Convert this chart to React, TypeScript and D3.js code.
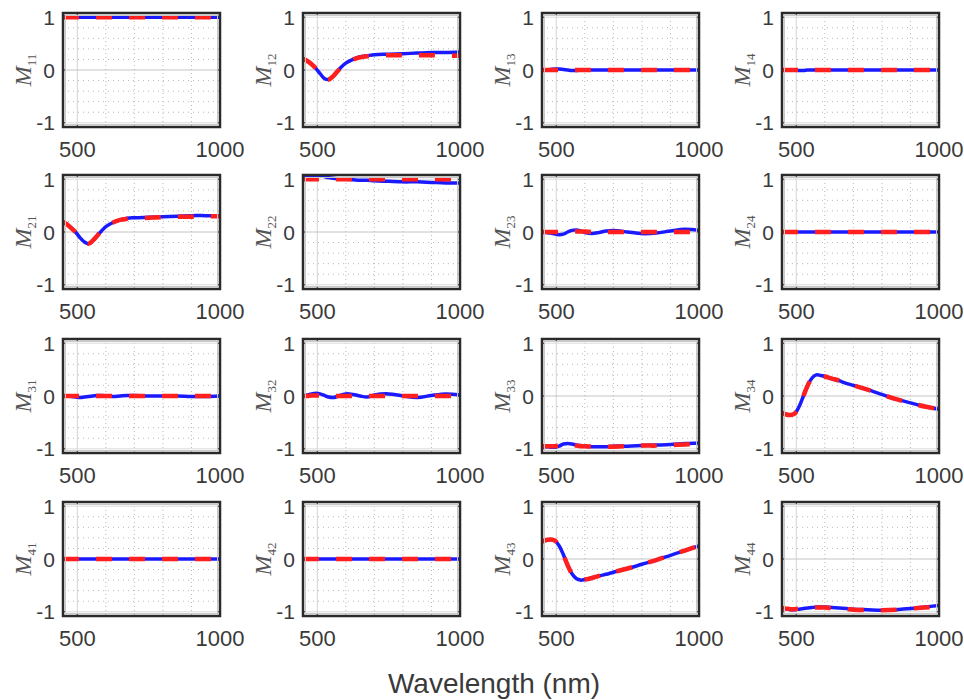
import React from "react";
import * as d3 from "d3";

// Shared wavelength samples (nm)
const wavelengths = [450, 465, 480, 495, 510, 525, 540, 555, 570, 585, 600, 625, 650, 675, 700, 750, 800, 850, 900, 950, 1000];

// Measured (blue) and fitted (red) Mueller matrix elements
const m11Measured = [1, 1, 1, 1, 1, 1, 1, 1, 1, 1, 1, 1, 1, 1, 1, 1, 1, 1, 1, 1, 1];
const m11Fit = [1, 1, 1, 1, 1, 1, 1, 1, 1, 1, 1, 1, 1, 1, 1, 1, 1, 1, 1, 1, 1];
const m12Measured = [0.21, 0.17, 0.11, 0.03, -0.07, -0.16, -0.18, -0.12, -0.03, 0.06, 0.13, 0.2, 0.25, 0.27, 0.29, 0.3, 0.31, 0.32, 0.33, 0.33, 0.34];
const m12Fit = [0.21, 0.17, 0.11, 0.03, -0.07, -0.16, -0.18, -0.12, -0.03, 0.06, 0.13, 0.2, 0.24, 0.26, 0.27, 0.28, 0.28, 0.28, 0.28, 0.27, 0.27];
const m13Measured = [0, 0, 0.01, 0.02, 0.02, 0.01, 0, -0.01, -0.01, 0, 0, 0, 0, 0, 0, 0, 0, 0, 0, 0, 0];
const m13Fit = [0, 0, 0, 0, 0, 0, 0, 0, 0, 0, 0, 0, 0, 0, 0, 0, 0, 0, 0, 0, 0];
const m14Measured = [0, 0, 0, 0, -0.01, -0.01, 0, 0, 0, 0, 0, 0, 0, 0, 0, 0, 0, 0, 0, 0, 0];
const m14Fit = [0, 0, 0, 0, 0, 0, 0, 0, 0, 0, 0, 0, 0, 0, 0, 0, 0, 0, 0, 0, 0];

const m21Measured = [0.19, 0.14, 0.07, -0.01, -0.11, -0.19, -0.22, -0.16, -0.07, 0.02, 0.1, 0.18, 0.23, 0.26, 0.27, 0.28, 0.29, 0.3, 0.31, 0.31, 0.31];
const m21Fit = [0.19, 0.14, 0.07, -0.01, -0.11, -0.19, -0.22, -0.16, -0.07, 0.02, 0.1, 0.18, 0.23, 0.25, 0.26, 0.27, 0.28, 0.29, 0.29, 0.3, 0.3];
const m22Measured = [1.04, 1.05, 1.06, 1.07, 1.07, 1.05, 1.03, 1.02, 1.01, 1.0, 1.0, 0.99, 0.98, 0.98, 0.97, 0.96, 0.95, 0.95, 0.94, 0.93, 0.93];
const m22Fit = [1, 1, 1, 1, 1, 1, 1, 1, 1, 1, 1, 1, 1, 1, 1, 1, 1, 1, 1, 1, 1];
const m23Measured = [0, -0.01, -0.02, -0.04, -0.05, -0.04, 0, 0.03, 0.04, 0.02, -0.01, -0.03, -0.01, 0.02, 0.03, 0, -0.03, -0.02, 0.02, 0.05, 0.03];
const m23Fit = [0, 0, 0, 0, 0, 0, 0, 0, 0.01, 0.01, 0.01, 0, 0, 0, 0, 0, 0, 0, 0, 0, 0];
const m24Measured = [0, 0, 0, 0, 0, 0, 0, 0, 0, 0, 0, 0, 0, 0, 0, 0, 0, 0, 0, 0, 0];
const m24Fit = [0, 0, 0, 0, 0, 0, 0, 0, 0, 0, 0, 0, 0, 0, 0, 0, 0, 0, 0, 0, 0];

const m31Measured = [0, 0, -0.01, -0.02, -0.03, -0.02, -0.01, 0, 0.01, 0.01, 0, -0.01, 0, 0.01, 0.01, 0, 0, 0, -0.01, -0.01, 0];
const m31Fit = [0, 0, 0, 0, 0, 0, 0, 0, 0, 0, 0, 0, 0, 0, 0, 0, 0, 0, 0, 0, 0];
const m32Measured = [0, 0.02, 0.04, 0.05, 0.04, 0.01, -0.02, -0.03, -0.01, 0.02, 0.04, 0.03, 0, -0.02, 0.02, 0.04, 0, -0.03, 0.01, 0.04, 0.02];
const m32Fit = [0, 0, 0.01, 0.01, 0.01, 0, 0, 0, 0, 0, 0, 0, 0, 0, 0, 0, 0, 0, 0, 0, 0];
const m33Measured = [-0.95, -0.96, -0.97, -0.97, -0.95, -0.91, -0.9, -0.91, -0.93, -0.94, -0.95, -0.96, -0.96, -0.96, -0.95, -0.95, -0.94, -0.93, -0.92, -0.9, -0.89];
const m33Fit = [-0.95, -0.95, -0.95, -0.95, -0.94, -0.93, -0.93, -0.93, -0.94, -0.95, -0.95, -0.96, -0.96, -0.96, -0.96, -0.95, -0.94, -0.94, -0.93, -0.92, -0.91];
const m34Measured = [-0.32, -0.35, -0.36, -0.33, -0.2, 0, 0.2, 0.34, 0.4, 0.39, 0.37, 0.33, 0.29, 0.24, 0.2, 0.12, 0.03, -0.06, -0.13, -0.2, -0.25];
const m34Fit = [-0.32, -0.35, -0.36, -0.33, -0.2, 0, 0.2, 0.34, 0.4, 0.39, 0.37, 0.33, 0.29, 0.24, 0.2, 0.12, 0.03, -0.06, -0.13, -0.2, -0.25];

const m41Measured = [0, 0, 0, 0, 0, 0, 0, 0, 0, 0, 0, 0, 0, 0, 0, 0, 0, 0, 0, 0, 0];
const m41Fit = [0, 0, 0, 0, 0, 0, 0, 0, 0, 0, 0, 0, 0, 0, 0, 0, 0, 0, 0, 0, 0];
const m42Measured = [0, 0, 0, 0, 0, 0, 0, 0, 0, 0, 0, 0, 0, 0, 0, 0, 0, 0, 0, 0, 0];
const m42Fit = [0, 0, 0, 0, 0, 0, 0, 0, 0, 0, 0, 0, 0, 0, 0, 0, 0, 0, 0, 0, 0];
const m43Measured = [0.33, 0.36, 0.37, 0.35, 0.25, 0.08, -0.12, -0.28, -0.37, -0.4, -0.39, -0.36, -0.32, -0.29, -0.25, -0.18, -0.1, -0.02, 0.07, 0.16, 0.25];
const m43Fit = [0.33, 0.36, 0.37, 0.35, 0.25, 0.08, -0.12, -0.28, -0.37, -0.4, -0.39, -0.36, -0.32, -0.29, -0.25, -0.18, -0.1, -0.02, 0.07, 0.16, 0.25];
const m44Measured = [-0.93, -0.95, -0.96, -0.96, -0.95, -0.94, -0.93, -0.92, -0.91, -0.91, -0.91, -0.92, -0.93, -0.94, -0.95, -0.96, -0.97, -0.96, -0.94, -0.91, -0.88];
const m44Fit = [-0.93, -0.94, -0.95, -0.95, -0.94, -0.93, -0.92, -0.92, -0.92, -0.92, -0.92, -0.93, -0.94, -0.95, -0.96, -0.97, -0.97, -0.96, -0.94, -0.92, -0.9];

const elementNames = ["11", "12", "13", "14", "21", "22", "23", "24", "31", "32", "33", "34", "41", "42", "43", "44"];
const measuredSeries = [m11Measured, m12Measured, m13Measured, m14Measured, m21Measured, m22Measured, m23Measured, m24Measured, m31Measured, m32Measured, m33Measured, m34Measured, m41Measured, m42Measured, m43Measured, m44Measured];
const fitSeries = [m11Fit, m12Fit, m13Fit, m14Fit, m21Fit, m22Fit, m23Fit, m24Fit, m31Fit, m32Fit, m33Fit, m34Fit, m41Fit, m42Fit, m43Fit, m44Fit];

const xTicks = [500, 1000];
const yTicks = [-1, 0, 1];
const xMinorGrid = [600, 700, 800, 900];
const yMinorGrid = [-0.8, -0.6, -0.4, -0.2, 0.2, 0.4, 0.6, 0.8];
const xLabel = "Wavelength (nm)";

const W = 964;
const H = 700;
const colLefts = [63, 303, 542, 782];
const rowTops = [13, 175, 339, 502];
const PW = 157;
const PH = 114;

function Panel({ idx }: { idx: number }) {
  const r = Math.floor(idx / 4);
  const c = idx % 4;
  const left = colLefts[c];
  const top = rowTops[r];
  const x = d3.scaleLinear().domain([450, 1000]).range([0, PW]);
  const y = d3.scaleLinear().domain([-1.08, 1.08]).range([PH, 0]);
  const line = d3
    .line<number>()
    .x((_, i) => x(wavelengths[i]))
    .y((v) => y(v))
    .curve(d3.curveCatmullRom.alpha(0.5));
  const clipId = `clip-${idx}`;
  const tickFont = "'Liberation Sans', Arial, sans-serif";
  return (
    <g transform={`translate(${left},${top})`}>
      <defs>
        <clipPath id={clipId}>
          <rect x={0} y={0} width={PW} height={PH} />
        </clipPath>
      </defs>
      <rect x={0} y={0} width={PW} height={PH} fill="#fff" />
      {/* minor dotted grid */}
      {xMinorGrid.map((v) => (
        <line key={"xm" + v} x1={x(v)} x2={x(v)} y1={0} y2={PH} stroke="#b8b8b8" strokeWidth={1} strokeDasharray="1,3" />
      ))}
      {yMinorGrid.map((v) => (
        <line key={"ym" + v} x1={0} x2={PW} y1={y(v)} y2={y(v)} stroke="#b8b8b8" strokeWidth={1} strokeDasharray="1,4" />
      ))}
      {/* major grid */}
      {xTicks.map((v) => (
        <line key={"xg" + v} x1={x(v)} x2={x(v)} y1={0} y2={PH} stroke="#d4d4d4" strokeWidth={1} />
      ))}
      {yTicks.map((v) => (
        <line key={"yg" + v} x1={0} x2={PW} y1={y(v)} y2={y(v)} stroke={v === 0 ? "#c4c4c4" : "#dcdcdc"} strokeWidth={1} />
      ))}
      {/* ticks */}
      {xTicks.map((v) => (
        <g key={"xt" + v}>
          <line x1={x(v)} x2={x(v)} y1={PH} y2={PH - 3} stroke="#333" />
          <line x1={x(v)} x2={x(v)} y1={0} y2={3} stroke="#333" />
        </g>
      ))}
      {yTicks.map((v) => (
        <g key={"yt" + v}>
          <line x1={0} x2={3} y1={y(v)} y2={y(v)} stroke="#333" />
          <line x1={PW} x2={PW - 3} y1={y(v)} y2={y(v)} stroke="#333" />
        </g>
      ))}
      <g clipPath={`url(#${clipId})`}>
        <path d={line(measuredSeries[idx]) || ""} fill="none" stroke="#1a1aff" strokeWidth={3.5} />
        <path d={line(fitSeries[idx]) || ""} fill="none" stroke="#ff1f1f" strokeWidth={4.5} strokeDasharray="16,17" />
      </g>
      <rect x={0} y={0} width={PW} height={PH} fill="none" stroke="#2a2a2a" strokeWidth={2.5} />
      <rect x={2.5} y={2.5} width={PW - 5} height={PH - 5} fill="none" stroke="#c8c8c8" strokeWidth={1} />
      {/* tick labels */}
      {yTicks.map((v) => (
        <text key={"yl" + v} x={-8} y={y(v)} dy="0.36em" textAnchor="end" fontFamily={tickFont} fontSize={21} fill="#3a3a3a">
          {v === -1 ? "-1" : String(v)}
        </text>
      ))}
      {xTicks.map((v) => (
        <text key={"xl" + v} x={x(v)} y={PH + 30} textAnchor="middle" fontFamily={tickFont} fontSize={22} fill="#3a3a3a">
          {String(v)}
        </text>
      ))}
      {/* y label */}
      <text
        transform={`translate(${-32},${PH / 2}) rotate(-90)`}
        textAnchor="middle"
        fontFamily="'Liberation Serif', 'DejaVu Serif', serif"
        fill="#555"
      >
        <tspan fontStyle="italic" fontSize={24}>M</tspan>
        <tspan fontSize={13} dy={5}>{elementNames[idx]}</tspan>
      </text>
    </g>
  );
}

export default function App() {
  return (
    <svg
      width={W}
      height={H}
      viewBox={`0 0 ${W} ${H}`}
      style={{ position: "absolute", left: 0, top: 0, background: "#fff" }}
    >
      <rect x={0} y={0} width={W} height={H} fill="#fff" />
      {elementNames.map((_, i) => (
        <Panel key={i} idx={i} />
      ))}
      <text x={494} y={693} textAnchor="middle" fontFamily="'Liberation Sans', Arial, sans-serif" fontSize={28} fill="#3a3a3a">
        {xLabel}
      </text>
    </svg>
  );
}
